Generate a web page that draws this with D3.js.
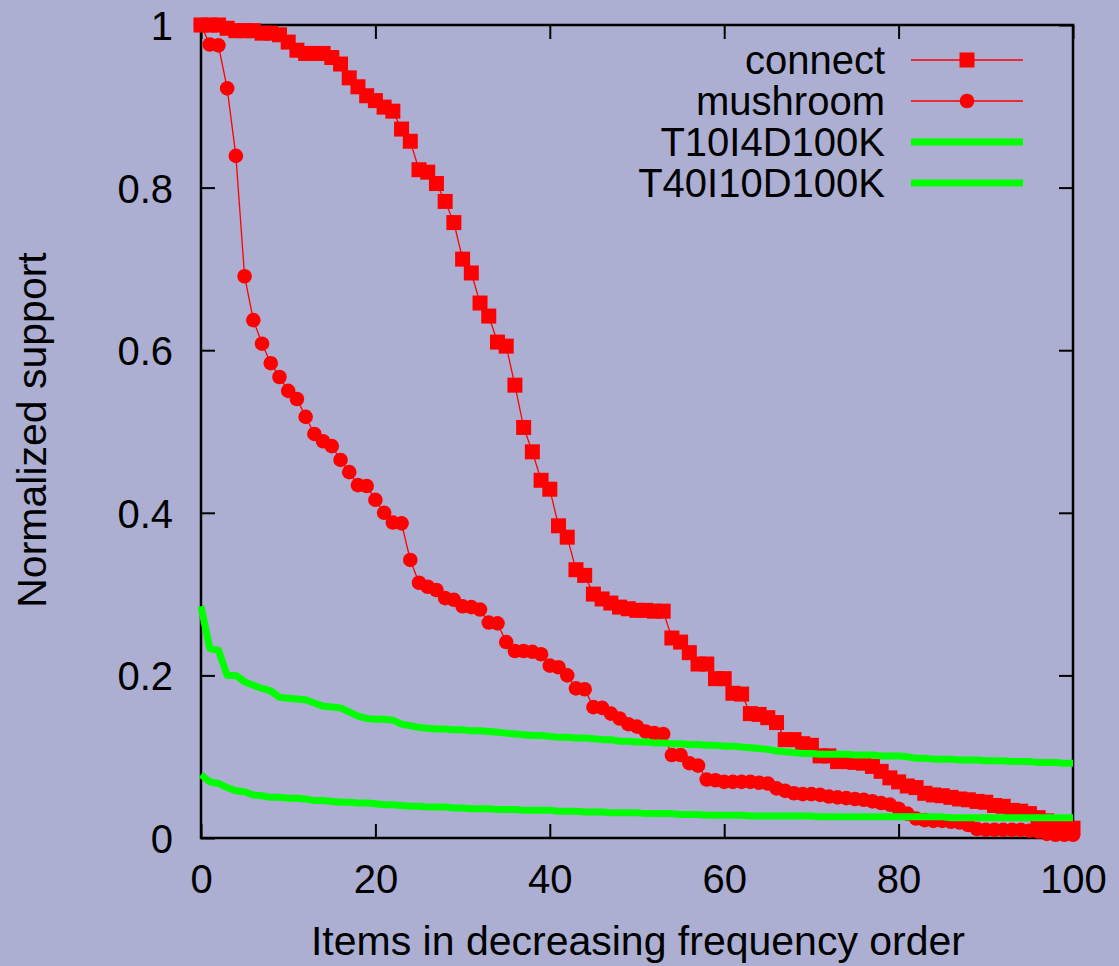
<!DOCTYPE html>
<html>
<head>
<meta charset="utf-8">
<script src="https://cdn.jsdelivr.net/npm/d3@7"></script>
<style>
  html, body { margin: 0; padding: 0; background: #acafd1; }
  svg { display: block; }
  text { font-family: "Liberation Sans", Arial, Helvetica, sans-serif; fill: #000; }
</style>
</head>
<body>
<div id="chart"></div>
<script>
// values, one per item rank 0..100
const connect = [
  1.0, 1.0, 1.0, 0.996, 0.993, 0.993, 0.993, 0.99, 0.99, 0.988,
  0.979, 0.969, 0.965, 0.965, 0.965, 0.96, 0.952, 0.935, 0.924, 0.913,
  0.907, 0.899, 0.894, 0.872, 0.857, 0.822, 0.819, 0.805, 0.783, 0.757,
  0.712, 0.695, 0.658, 0.642, 0.610, 0.605, 0.557, 0.505, 0.475, 0.440,
  0.429, 0.384, 0.370, 0.330, 0.323, 0.300, 0.294, 0.289, 0.284, 0.282,
  0.280, 0.280, 0.279, 0.279, 0.246, 0.241, 0.228, 0.214, 0.214, 0.196,
  0.196, 0.178, 0.177, 0.153, 0.152, 0.148, 0.142, 0.121, 0.121, 0.116,
  0.114, 0.101, 0.101, 0.094, 0.094, 0.093, 0.092, 0.088, 0.082, 0.074,
  0.069, 0.064, 0.062, 0.055, 0.053, 0.052, 0.050, 0.048, 0.047, 0.045,
  0.044, 0.040, 0.039, 0.034, 0.033, 0.030, 0.025, 0.021, 0.019, 0.016, 0.012
];

const mushroom = [
  1.0, 0.976, 0.975, 0.922, 0.839, 0.691, 0.637, 0.608, 0.584, 0.567,
  0.550, 0.540, 0.518, 0.497, 0.488, 0.482, 0.465, 0.450, 0.434, 0.433,
  0.416, 0.400, 0.388, 0.387, 0.342, 0.314, 0.309, 0.305, 0.295, 0.293,
  0.285, 0.284, 0.281, 0.265, 0.264, 0.241, 0.230, 0.230, 0.229, 0.226,
  0.212, 0.210, 0.200, 0.184, 0.183, 0.161, 0.160, 0.153, 0.147, 0.140,
  0.137, 0.131, 0.129, 0.128, 0.102, 0.102, 0.092, 0.089, 0.072, 0.071,
  0.069, 0.069, 0.069, 0.069, 0.068, 0.067, 0.061, 0.058, 0.055, 0.054,
  0.054, 0.053, 0.051, 0.050, 0.049, 0.048, 0.047, 0.045, 0.043, 0.041,
  0.036, 0.030, 0.024, 0.022, 0.021, 0.021, 0.020, 0.019, 0.016, 0.011,
  0.010, 0.010, 0.010, 0.010, 0.010, 0.009, 0.008, 0.005, 0.004, 0.004, 0.004
];

const t10i4 = [
  0.285, 0.233, 0.231, 0.200, 0.200, 0.192, 0.188, 0.184, 0.181, 0.173,
  0.172, 0.171, 0.170, 0.166, 0.162, 0.161, 0.160, 0.155, 0.150, 0.147,
  0.146, 0.146, 0.145, 0.140, 0.138, 0.136, 0.135, 0.134, 0.134, 0.133,
  0.133, 0.132, 0.132, 0.131, 0.130, 0.129, 0.128, 0.127, 0.126, 0.126,
  0.125, 0.124, 0.124, 0.123, 0.123, 0.122, 0.121, 0.121, 0.119, 0.119,
  0.118, 0.118, 0.117, 0.117, 0.116, 0.116, 0.115, 0.115, 0.114, 0.114,
  0.113, 0.113, 0.112, 0.111, 0.110, 0.109, 0.107, 0.106, 0.105, 0.104,
  0.104, 0.103, 0.103, 0.103, 0.103, 0.102, 0.102, 0.102, 0.101, 0.101,
  0.101, 0.100, 0.098, 0.098, 0.097, 0.097, 0.097, 0.096, 0.096, 0.096,
  0.095, 0.095, 0.095, 0.094, 0.094, 0.094, 0.093, 0.093, 0.093, 0.092, 0.092
];

const t40i10 = [
  0.078, 0.069, 0.067, 0.062, 0.058, 0.057, 0.053, 0.052, 0.050, 0.050,
  0.049, 0.049, 0.048, 0.046, 0.046, 0.045, 0.044, 0.044, 0.043, 0.043,
  0.042, 0.041, 0.041, 0.040, 0.039, 0.039, 0.038, 0.038, 0.038, 0.037,
  0.037, 0.036, 0.036, 0.036, 0.035, 0.035, 0.035, 0.034, 0.034, 0.034,
  0.034, 0.033, 0.033, 0.033, 0.032, 0.032, 0.032, 0.031, 0.031, 0.031,
  0.031, 0.030, 0.030, 0.030, 0.030, 0.029, 0.029, 0.029, 0.028, 0.028,
  0.028, 0.028, 0.028, 0.027, 0.027, 0.027, 0.027, 0.027, 0.027, 0.027,
  0.027, 0.026, 0.026, 0.026, 0.026, 0.026, 0.026, 0.026, 0.026, 0.026,
  0.026, 0.026, 0.026, 0.026, 0.026, 0.026, 0.025, 0.025, 0.025, 0.025,
  0.025, 0.025, 0.025, 0.025, 0.025, 0.025, 0.025, 0.025, 0.025, 0.025, 0.025
];

const xTicks = [0, 20, 40, 60, 80, 100];
const yTicks = [0, 0.2, 0.4, 0.6, 0.8, 1];
const yTickLabels = ['0', '0.2', '0.4', '0.6', '0.8', '1'];
const seriesNames = ['connect', 'mushroom', 'T10I4D100K', 'T40I10D100K'];

const width = 1119, height = 966;
const plot = { left: 201, right: 1073, top: 25, bottom: 838 };
const fontSize = 40;

const svg = d3.select('#chart').append('svg')
  .attr('width', width)
  .attr('height', height);

svg.append('rect')
  .attr('width', width)
  .attr('height', height)
  .attr('fill', '#acafd1');

const x = d3.scaleLinear().domain([0, 100]).range([plot.left, plot.right]);
const y = d3.scaleLinear().domain([0, 1]).range([plot.bottom, plot.top]);

// frame
svg.append('rect')
  .attr('x', plot.left)
  .attr('y', plot.top)
  .attr('width', plot.right - plot.left)
  .attr('height', plot.bottom - plot.top)
  .attr('fill', 'none')
  .attr('stroke', '#000')
  .attr('stroke-width', 2.5);

// ticks point inward on all four sides, gnuplot style
const tickLen = 14;
function styleAxis(g) {
  g.select('.domain').remove();
  g.selectAll('.tick line').attr('stroke', '#000').attr('stroke-width', 2);
}

svg.append('g')
  .attr('transform', `translate(0,${plot.bottom})`)
  .call(d3.axisBottom(x).tickValues(xTicks).tickSize(-tickLen).tickPadding(0))
  .call(styleAxis)
  .call(g => g.selectAll('.tick text')
    .attr('y', 55)
    .attr('dy', 0)
    .attr('font-size', fontSize));

svg.append('g')
  .attr('transform', `translate(0,${plot.top})`)
  .call(d3.axisTop(x).tickValues(xTicks).tickSize(-tickLen).tickFormat(''))
  .call(styleAxis);

svg.append('g')
  .attr('transform', `translate(${plot.left},0)`)
  .call(d3.axisLeft(y).tickValues(yTicks).tickSize(-tickLen)
    .tickFormat((d, i) => yTickLabels[i]))
  .call(styleAxis)
  .call(g => g.selectAll('.tick text')
    .attr('x', -28)
    .attr('dy', '0.36em')
    .attr('font-size', fontSize));

svg.append('g')
  .attr('transform', `translate(${plot.right},0)`)
  .call(d3.axisRight(y).tickValues(yTicks).tickSize(-tickLen).tickFormat(''))
  .call(styleAxis);

// d3 axes set their own font; let the css one win
svg.selectAll('g').attr('font-family', null);

// axis titles
svg.append('text')
  .attr('x', 638)
  .attr('y', 955)
  .attr('text-anchor', 'middle')
  .attr('font-size', 41)
  .text('Items in decreasing frequency order');

svg.append('text')
  .attr('transform', 'translate(46,430) rotate(-90)')
  .attr('text-anchor', 'middle')
  .attr('font-size', 41)
  .text('Normalized support');

// series
const idx = d3.range(connect.length);
const line = vals => d3.line()
  .x(i => x(i))
  .y(i => y(vals[i]))(idx);

const red = '#ff0000', green = '#00ff00';

svg.append('path')
  .attr('d', line(connect))
  .attr('fill', 'none')
  .attr('stroke', red)
  .attr('stroke-width', 1.3);

svg.append('g').selectAll('rect')
  .data(idx)
  .join('rect')
  .attr('x', i => x(i) - 7.5)
  .attr('y', i => y(connect[i]) - 7.5)
  .attr('width', 15)
  .attr('height', 15)
  .attr('fill', red);

svg.append('path')
  .attr('d', line(mushroom))
  .attr('fill', 'none')
  .attr('stroke', red)
  .attr('stroke-width', 1.3);

svg.append('g').selectAll('circle')
  .data(idx)
  .join('circle')
  .attr('cx', i => x(i))
  .attr('cy', i => y(mushroom[i]))
  .attr('r', 7.3)
  .attr('fill', red);

svg.append('path')
  .attr('d', line(t10i4))
  .attr('fill', 'none')
  .attr('stroke', green)
  .attr('stroke-width', 7)
  .attr('stroke-linejoin', 'round');

svg.append('path')
  .attr('d', line(t40i10))
  .attr('fill', 'none')
  .attr('stroke', green)
  .attr('stroke-width', 7)
  .attr('stroke-linejoin', 'round');

// legend
const legend = svg.append('g');
const legY = [60, 101, 142, 183];
const sampleX0 = 911, sampleX1 = 1023, sampleMid = 967;

seriesNames.forEach((name, i) => {
  legend.append('text')
    .attr('x', 885)
    .attr('y', legY[i] + 14)
    .attr('text-anchor', 'end')
    .attr('font-size', fontSize)
    .text(name);
  const isRed = i < 2;
  legend.append('line')
    .attr('x1', sampleX0).attr('x2', sampleX1)
    .attr('y1', legY[i]).attr('y2', legY[i])
    .attr('stroke', isRed ? red : green)
    .attr('stroke-width', isRed ? 1.3 : 7);
});

legend.append('rect')
  .attr('x', sampleMid - 7.5)
  .attr('y', legY[0] - 7.5)
  .attr('width', 15)
  .attr('height', 15)
  .attr('fill', red);

legend.append('circle')
  .attr('cx', sampleMid)
  .attr('cy', legY[1])
  .attr('r', 7.3)
  .attr('fill', red);
</script>
</body>
</html>
